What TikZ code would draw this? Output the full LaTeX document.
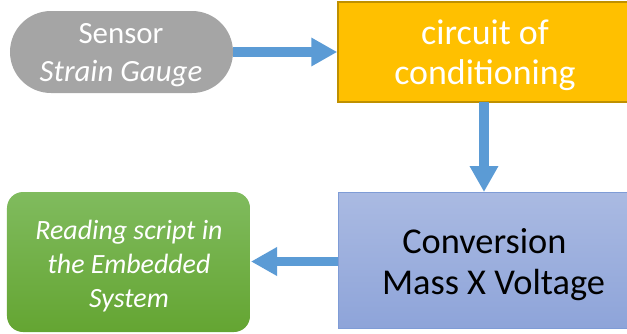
\documentclass[tikz,border=0pt]{standalone}
\usepackage{fontspec}
\setmainfont{Carlito}
\usetikzlibrary{arrows.meta}
\definecolor{arrowblue}{HTML}{5B9BD5}
\definecolor{sensorgray}{HTML}{A5A5A5}
\definecolor{condorange}{HTML}{FFC000}
\definecolor{condborder}{HTML}{BF9000}
\definecolor{convtop}{HTML}{AABAE2}
\definecolor{convbot}{HTML}{8EA4D9}
\definecolor{convborder}{HTML}{7F9CD6}
\definecolor{greentop}{HTML}{80BB5E}
\definecolor{greenbot}{HTML}{64A532}
\tikzset{
  flowarrow/.style={draw=arrowblue, line width=9.5bp, -{Triangle[length=26bp,width=27bp]}},
  plaintext/.style={inner sep=0pt, align=center},
}
\begin{document}
\begin{tikzpicture}[x=1bp,y=-1bp]
\useasboundingbox (0,0) rectangle (627,333);
\clip (0,0) rectangle (627,333);
% sensor
\node[fill=sensorgray, rounded corners=41bp, minimum width=223bp, minimum height=82bp, inner sep=0pt] (sensor) at (121.5,52) {};
\node[plaintext, text=white, font=\fontsize{31}{38}\selectfont] (sensortext) at (121,55)
      {Sensor\\\textit{Strain Gauge}};
% conditioning
\node[fill=condorange, draw=condborder, line width=1.5bp, minimum width=294bp, minimum height=100bp, inner sep=0pt] (cond) at (485,52) {};
\node[plaintext, text=white, font=\fontsize{36}{40}\selectfont] (condtext) at (485,55)
      {circuit of\\conditioning};
% conversion
\node[top color=convtop, bottom color=convbot, draw=convborder, line width=1bp, minimum width=302bp, minimum height=136bp, inner sep=0pt] (conv) at (489,260) {};
\node[plaintext, text=black, font=\fontsize{36.5}{41}\selectfont] (convtext) at (493.5,264.5)
      {Conversion\hspace*{0.5em}\\Mass X Voltage};
% reading
\node[top color=greentop, bottom color=greenbot, rounded corners=16bp, minimum width=243bp, minimum height=140bp, inner sep=0pt] (read) at (128.5,262) {};
\node[plaintext, text=white, font=\fontsize{28}{34}\itshape\selectfont] (readtext) at (129,266)
      {Reading script in\\the Embedded\\System};
% connectors
\draw[flowarrow] (sensor.east) -- (cond.west);
\coordinate (condbot) at (484,102);
\coordinate (convtop) at (484,192);
\draw[flowarrow] (condbot) -- (convtop);
\coordinate (convleft) at (338,261.5);
\coordinate (readright) at (251,261.5);
\draw[flowarrow] (convleft) -- (readright);
\end{tikzpicture}
\end{document}
